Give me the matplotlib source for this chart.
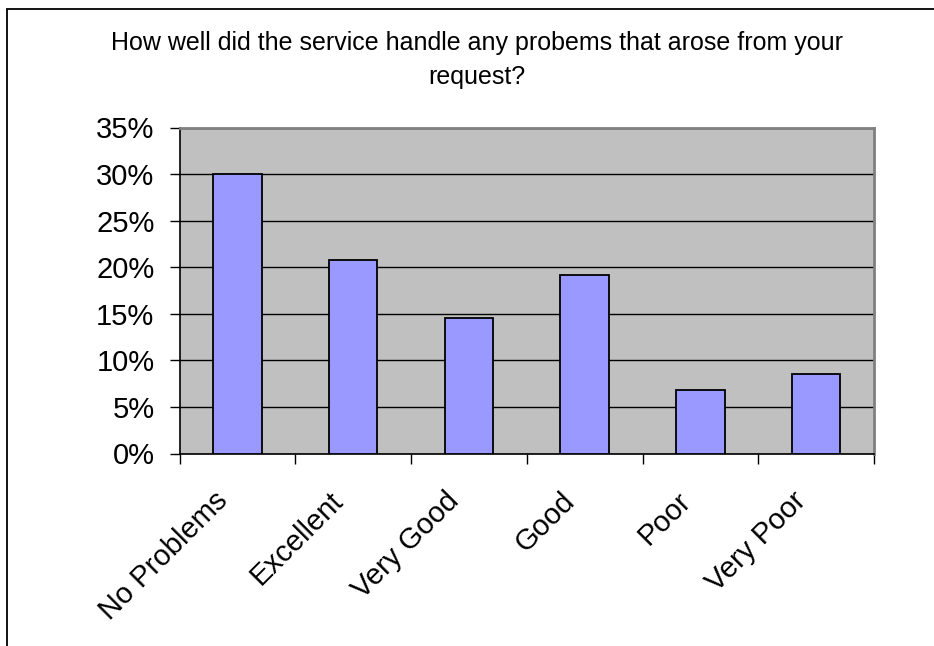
import numpy as np
import matplotlib.pyplot as plt
import matplotlib.transforms as mtransforms
from matplotlib.patches import Rectangle
from matplotlib.ticker import PercentFormatter, FixedLocator

plt.rcParams['font.family'] = ['Liberation Sans', 'DejaVu Sans']

categories = ['No Problems', 'Excellent', 'Very Good', 'Good', 'Poor', 'Very Poor']
shares = [30.0, 20.8, 14.5, 19.2, 6.8, 8.5]
yticks = [0, 5, 10, 15, 20, 25, 30, 35]
title = 'How well did the service handle any probems that arose from your\nrequest?'

W, H = 934, 646
fig = plt.figure(figsize=(W / 100, H / 100), dpi=100)

# chart border, running off the right and bottom edges
fig.patches.append(Rectangle((7 / W, -0.1), 1.2, 1 - 9 / H + 0.1,
                             transform=fig.transFigure, fill=False,
                             edgecolor='black', linewidth=1.3))

ax = fig.add_axes([179.5 / W, 1 - 453.5 / H, (874 - 179.5) / W, (453.5 - 127.5) / H])
ax.set_facecolor('#C0C0C0')

x = np.arange(len(categories))
ax.bar(x, shares, width=0.42, color='#9999FF', edgecolor='black', linewidth=1.3, zorder=3)

ax.set_xlim(-0.5, len(categories) - 0.5)
ax.set_ylim(0, 35)
ax.set_yticks(yticks)
ax.yaxis.set_major_formatter(PercentFormatter(decimals=0))
ax.grid(axis='y', color='black', linewidth=1.0, zorder=1)

ax.set_xticks(x)
ax.set_xticklabels(categories, rotation=45, ha='right', va='top', rotation_mode='anchor')
ax.xaxis.set_minor_locator(FixedLocator(np.arange(-0.5, len(categories), 1.0)))
ax.tick_params(axis='x', which='major', length=0, pad=24, labelsize=21)
ax.tick_params(axis='x', which='minor', length=7, width=1, direction='out')
ax.tick_params(axis='y', length=7, width=1, direction='out', pad=11, labelsize=21)

# nudge the slanted labels left of the bar centres
shift = mtransforms.ScaledTranslation(-24 / 100, 0, fig.dpi_scale_trans)
for lbl in ax.get_xticklabels():
    lbl.set_transform(lbl.get_transform() + shift)

for side in ('left', 'bottom'):
    ax.spines[side].set_color('black')
    ax.spines[side].set_linewidth(1.2)
for side in ('top', 'right'):
    ax.spines[side].set_color('#808080')
    ax.spines[side].set_linewidth(2)

fig.text(477 / W, 1 - 60 / H, title, ha='center', va='center',
         fontsize=18, linespacing=1.5)

fig.savefig('out.png', dpi=100)
